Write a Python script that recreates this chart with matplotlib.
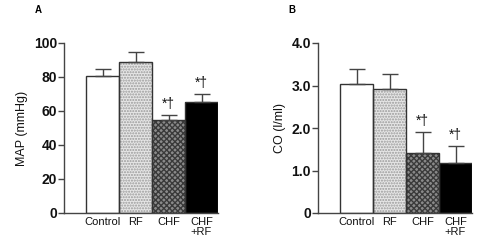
import matplotlib
matplotlib.use("Agg")
import matplotlib.pyplot as plt
import numpy as np

plt.rcParams['font.family'] = ['Liberation Sans', 'DejaVu Sans']

categories = ["Control", "RF", "CHF", "CHF\n+RF"]
map_values = [80.5, 89, 54.5, 65.5]
map_err = [4.5, 5.5, 3.0, 4.5]
co_values = [3.03, 2.92, 1.42, 1.18]
co_err = [0.37, 0.36, 0.48, 0.40]
sig = ["", "", "*\u2020", "*\u2020"]

face = ["white", "#e6e6e6", "#8a8a8a", "black"]
hatch_col = [None, "#9a9a9a", "#3a3a3a", None]
hatches = [None, "......", "xxxxxx", None]

fig = plt.figure(figsize=(5.01, 2.46), dpi=100)

def panel(rect, vals, errs, ylim, yticks, yticklabels, ylabel, letter, letter_x):
    ax = fig.add_axes(rect)
    x = np.arange(len(vals))
    ax.bar(x, vals, width=1.0, color=face, edgecolor='none', zorder=1)
    for i in range(len(vals)):
        if hatches[i]:
            ax.bar(x[i], vals[i], width=1.0, color='none', edgecolor=hatch_col[i],
                   hatch=hatches[i], linewidth=0, zorder=2)
    ax.bar(x, vals, width=1.0, color='none', edgecolor='#333333', linewidth=1.0, zorder=3)
    ax.errorbar(x, vals, yerr=[np.zeros(len(errs)), errs], fmt='none', ecolor='#444444',
                elinewidth=1.0, capsize=6, capthick=1.0, zorder=4)
    for i in range(len(vals)):
        if sig[i]:
            ax.annotate(sig[i], (x[i], vals[i] + errs[i]), xytext=(0, 3),
                        textcoords='offset points', ha='center', va='bottom',
                        fontsize=10, color='#111111')
    ax.set_xlim(-1.17, 3.5)
    ax.set_ylim(*ylim)
    ax.set_yticks(yticks)
    ax.set_yticklabels(yticklabels, fontsize=10, color='#111111', fontweight='bold')
    ax.set_xticks(x)
    ax.set_xticklabels(categories, fontsize=8, linespacing=1.0, color='#111111')
    ax.tick_params(axis='x', length=0, pad=3)
    ax.tick_params(axis='y', length=4, width=1.0, color='#444444', pad=1)
    ax.spines['top'].set_visible(False)
    ax.spines['right'].set_visible(False)
    for s in ['left', 'bottom']:
        ax.spines[s].set_color('#444444')
        ax.spines[s].set_linewidth(1.0)
    ax.set_ylabel(ylabel, fontsize=9, labelpad=4, color='#111111')
    fig.text(letter_x, 1 - 10/246, letter, fontsize=7, fontweight='bold', ha='center', va='center')
    return ax

panel([64/501, 33/246, 154/501, 170/246], map_values, map_err, (0, 100),
      [0, 20, 40, 60, 80, 100], ["0", "20", "40", "60", "80", "100"],
      "MAP (mmHg)", "A", 38/501)
panel([318/501, 33/246, 154/501, 170/246], co_values, co_err, (0, 4.0),
      [0, 1, 2, 3, 4], ["0", "1.0", "2.0", "3.0", "4.0"],
      "CO (l/ml)", "B", 292/501)

fig.savefig("out.png", dpi=100)
